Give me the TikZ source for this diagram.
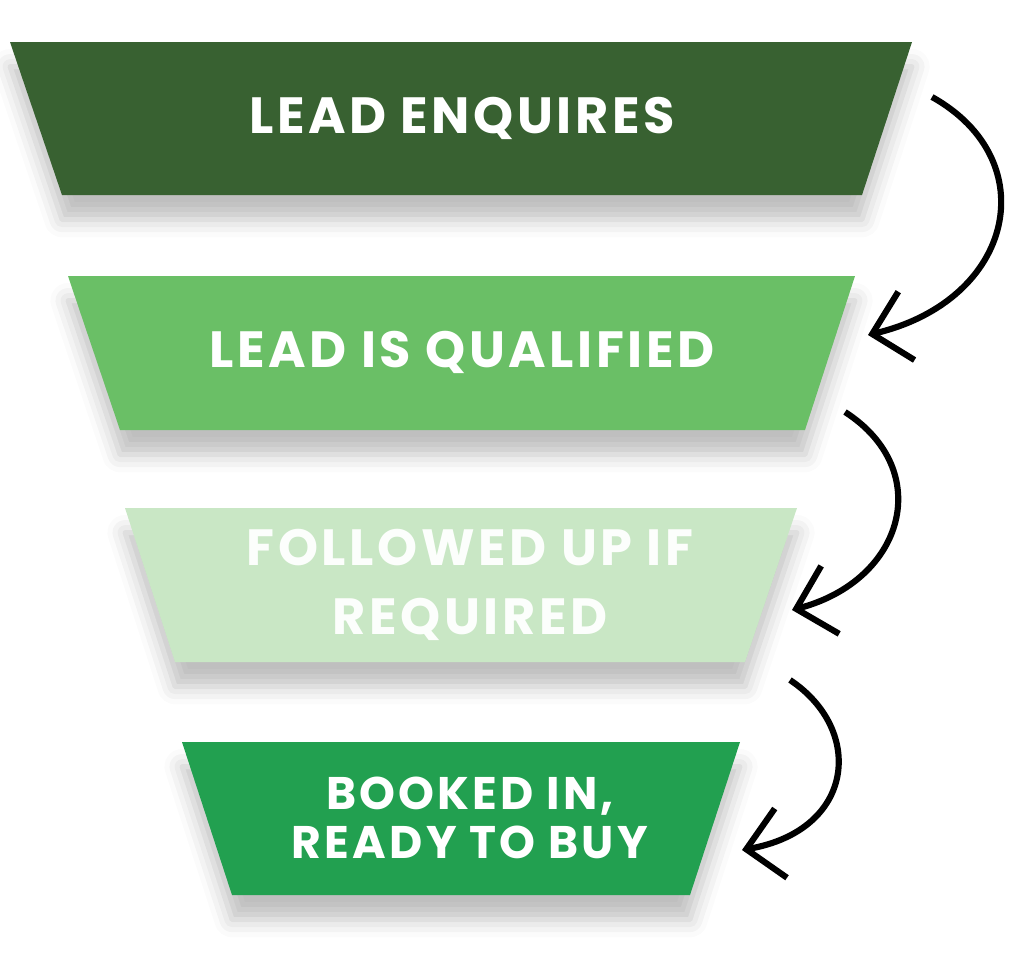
\documentclass[tikz,border=0pt]{standalone}
\usepackage{fontspec}
\setmainfont{Poppins}[LetterSpace=7]
\usetikzlibrary{arrows.meta,shadows.blur}

\tikzset{
  stage/.style={blur shadow={shadow xshift=0pt,shadow yshift=-14pt,shadow blur radius=10pt,shadow opacity=25}},
  stagetext/.style={text=white,font=\fontsize{29}{39}\selectfont\bfseries,align=center},
  flow/.style={line width=3.5pt,-{Straight Barb[length=20pt,width=40pt,line width=3.5pt]}}
}
\definecolor{gDark}{HTML}{386131}
\definecolor{gMid}{HTML}{6ABF66}
\definecolor{gPale}{HTML}{C9E7C5}
\definecolor{gBook}{HTML}{22A050}

\begin{document}
\begin{tikzpicture}[x=0.02cm,y=-0.02cm]
  \useasboundingbox (0,0) rectangle (1024,961);
  % funnel stages
  \fill[gDark,stage] (10,42) -- (912,42) -- (862,195) -- (62,195) -- cycle;
  \fill[gMid,stage] (68,276) -- (855,276) -- (805,430) -- (120,430) -- cycle;
  \fill[gPale,stage] (125,508) -- (797,508) -- (745,662) -- (175,662) -- cycle;
  \fill[gBook,stage] (182,742) -- (740,742) -- (690,895) -- (232,895) -- cycle;
  \node[stagetext] (enq) at (462,118) {LEAD ENQUIRES};
  \node[stagetext] (qual) at (462,352) {LEAD IS QUALIFIED};
  \node[stagetext,text=white!95!gPale] (follow) at (470,585) {FOLLOWED UP IF\\REQUIRED};
  \node[stagetext,font=\fontsize{26}{28}\selectfont\bfseries] (book) at (470,818) {BOOKED IN,\\READY TO BUY};
  % arrows
  \coordinate (a1) at (932,97);
  \coordinate (b1) at (868,335);
  \coordinate (a2) at (845,412);
  \coordinate (b2) at (792,610);
  \coordinate (a3) at (790,680);
  \coordinate (b3) at (742,850);
  \draw[flow] (a1) .. controls (1045,160) and (1015,300) .. (b1);
  \draw[flow] (a2) .. controls (935,470) and (905,580) .. (b2);
  \draw[flow] (a3) .. controls (865,730) and (855,830) .. (b3);
\end{tikzpicture}
\end{document}
